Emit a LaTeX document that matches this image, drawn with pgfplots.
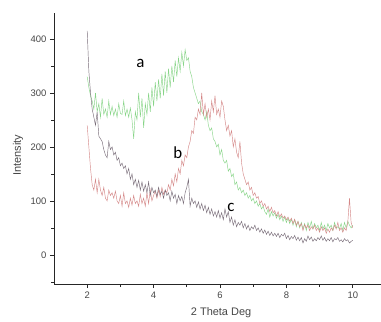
\documentclass[border=0pt]{standalone}
\usepackage{pgfplots}
\pgfplotsset{compat=1.18}
\usepackage{fontspec}
\setmainfont{Liberation Sans}
\newfontfamily\calfont{Carlito}
\definecolor{cgreen}{RGB}{135,212,135}
\definecolor{cred}{RGB}{212,135,135}
\definecolor{cgray}{RGB}{120,108,120}
\definecolor{txt}{RGB}{70,70,70}
\begin{document}
\begin{tikzpicture}
\useasboundingbox (0,0) rectangle (381bp,322bp);
\begin{axis}[
  at={(54bp,38bp)}, anchor=south west,
  scale only axis, width=327bp, height=271bp,
  axis lines=left, axis line style={-, line width=0.8pt, color=black!85},
  xmin=1.0, xmax=10.85, ymin=-54, ymax=448,
  xtick={2,4,6,8,10}, minor xtick={3,5,7,9},
  ytick={0,100,200,300,400}, minor ytick={-50,50,150,250,350},
  tick align=outside, major tick length=4bp, minor tick length=3bp,
  tick style={color=black!85, line width=0.6pt},
  /pgf/number format/assume math mode=true,
  tick label style={font=\fontsize{9.5}{10}\selectfont, color=txt},
  xlabel={2 Theta Deg}, ylabel={Intensity},
  label style={font=\fontsize{11}{12}\selectfont, color=txt},
  xlabel style={at={(axis description cs:0.511,-0.107)}, anchor=center},
  ylabel style={at={(axis description cs:-0.110,0.476)}, anchor=center},
  clip=false,
]
\addplot[cgreen, line width=0.45pt] table {
2.00 330
2.05 310
2.10 295
2.15 285
2.20 270
2.25 300
2.30 265
2.35 280
2.40 255
2.45 290
2.50 260
2.55 270
2.60 255
2.65 285
2.70 260
2.75 275
2.80 258
2.85 270
2.90 255
2.95 280
3.00 262
3.05 260
3.10 285
3.15 258
3.20 270
3.25 255
3.30 272
3.35 250
3.40 215
3.45 265
3.50 250
3.55 300
3.60 255
3.65 290
3.70 235
3.75 280
3.80 260
3.85 300
3.90 265
3.95 310
4.00 275
4.05 320
4.10 285
4.15 325
4.20 290
4.25 335
4.30 295
4.35 340
4.40 300
4.45 345
4.50 310
4.55 350
4.60 320
4.65 360
4.70 330
4.75 365
4.80 340
4.85 375
4.90 350
4.95 380
5.00 360
5.05 365
5.10 340
5.15 330
5.20 310
5.25 300
5.30 290
5.35 280
5.40 285
5.45 265
5.50 260
5.55 250
5.60 265
5.65 240
5.70 230
5.75 235
5.80 215
5.85 210
5.90 200
5.95 205
6.00 185
6.05 195
6.10 175
6.15 170
6.20 175
6.25 155
6.30 160
6.35 145
6.40 150
6.45 130
6.50 135
6.55 120
6.60 125
6.65 115
6.70 120
6.75 110
6.80 115
6.85 105
6.90 110
6.95 100
7.00 105
7.05 95
7.10 100
7.15 90
7.20 95
7.25 85
7.30 90
7.35 80
7.40 75
7.45 85
7.50 70
7.55 80
7.60 72
7.65 78
7.70 68
7.75 75
7.80 65
7.85 72
7.90 62
7.95 70
8.00 60
8.05 68
8.10 58
8.15 66
8.20 55
8.25 65
8.30 52
8.35 62
8.40 50
8.45 60
8.50 48
8.55 58
8.60 45
8.65 60
8.70 50
8.75 62
8.80 48
8.85 58
8.90 50
8.95 55
9.00 45
9.05 60
9.10 48
9.15 55
9.20 45
9.25 58
9.30 50
9.35 55
9.40 45
9.45 60
9.50 50
9.55 52
9.60 48
9.65 58
9.70 45
9.75 60
9.80 50
9.85 62
9.90 55
9.95 50
10.00 55
};
\addplot[cred, line width=0.45pt] table {
2.00 240
2.05 200
2.10 160
2.15 130
2.20 120
2.25 140
2.30 115
2.35 140
2.40 120
2.45 110
2.50 125
2.55 105
2.60 100
2.65 120
2.70 110
2.75 115
2.80 105
2.85 118
2.90 100
2.95 95
3.00 110
3.05 90
3.10 115
3.15 95
3.20 100
3.25 88
3.30 105
3.35 92
3.40 110
3.45 95
3.50 100
3.55 90
3.60 112
3.65 95
3.70 105
3.75 90
3.80 115
3.85 95
3.90 120
3.95 100
4.00 110
4.05 118
4.10 105
4.15 120
4.20 108
4.25 125
4.30 112
4.35 120
4.40 115
4.45 130
4.50 120
4.55 140
4.60 128
4.65 150
4.70 135
4.75 160
4.80 150
4.85 175
4.90 165
4.95 185
5.00 180
5.05 200
5.10 210
5.15 230
5.20 225
5.25 255
5.30 250
5.35 270
5.40 260
5.45 300
5.50 260
5.55 280
5.60 255
5.65 270
5.70 250
5.75 285
5.80 265
5.85 295
5.90 260
5.95 270
6.00 255
6.05 285
6.10 275
6.15 250
6.20 230
6.25 240
6.30 220
6.35 230
6.40 200
6.45 215
6.50 190
6.55 180
6.60 210
6.65 170
6.70 150
6.75 140
6.80 130
6.85 135
6.90 120
6.95 125
7.00 110
7.05 115
7.10 105
7.15 108
7.20 95
7.25 100
7.30 90
7.35 95
7.40 85
7.45 90
7.50 80
7.55 88
7.60 78
7.65 82
7.70 72
7.75 80
7.80 70
7.85 76
7.90 68
7.95 72
8.00 65
8.05 70
8.10 62
8.15 68
8.20 58
8.25 66
8.30 55
8.35 62
8.40 52
8.45 58
8.50 45
8.55 56
8.60 50
8.65 55
8.70 45
8.75 52
8.80 48
8.85 55
8.90 45
8.95 50
9.00 42
9.05 52
9.10 45
9.15 50
9.20 40
9.25 48
9.30 42
9.35 50
9.40 45
9.45 55
9.50 48
9.55 60
9.60 45
9.65 50
9.70 42
9.75 50
9.80 45
9.85 60
9.90 105
9.95 60
10.00 50
};
\addplot[cgray, line width=0.45pt] table {
2.00 415
2.05 340
2.10 300
2.15 270
2.20 255
2.25 240
2.30 265
2.35 220
2.40 215
2.45 210
2.50 195
2.55 185
2.60 180
2.65 210
2.70 195
2.75 200
2.80 185
2.85 190
2.90 175
2.95 180
3.00 165
3.05 170
3.10 160
3.15 165
3.20 150
3.25 160
3.30 140
3.35 150
3.40 130
3.45 140
3.50 125
3.55 138
3.60 120
3.65 135
3.70 118
3.75 130
3.80 115
3.85 135
3.90 110
3.95 125
4.00 115
4.05 120
4.10 108
4.15 125
4.20 112
4.25 118
4.30 105
4.35 120
4.40 110
4.45 115
4.50 100
4.55 118
4.60 105
4.65 112
4.70 95
4.75 110
4.80 100
4.85 108
4.90 95
4.95 115
5.00 125
5.05 140
5.10 90
5.15 105
5.20 95
5.25 100
5.30 88
5.35 98
5.40 85
5.45 95
5.50 82
5.55 92
5.60 78
5.65 88
5.70 75
5.75 85
5.80 72
5.85 80
5.90 70
5.95 82
6.00 68
6.05 78
6.10 65
6.15 85
6.20 70
6.25 80
6.30 60
6.35 70
6.40 55
6.45 65
6.50 52
6.55 60
6.60 55
6.65 62
6.70 50
6.75 58
6.80 48
6.85 55
6.90 45
6.95 52
7.00 48
7.05 55
7.10 45
7.15 50
7.20 42
7.25 48
7.30 40
7.35 46
7.40 38
7.45 44
7.50 36
7.55 42
7.60 35
7.65 40
7.70 34
7.75 40
7.80 32
7.85 38
7.90 35
7.95 40
8.00 30
8.05 36
8.10 28
8.15 34
8.20 30
8.25 36
8.30 27
8.35 33
8.40 26
8.45 32
8.50 22
8.55 30
8.60 25
8.65 35
8.70 28
8.75 33
8.80 25
8.85 30
8.90 26
8.95 32
9.00 28
9.05 35
9.10 27
9.15 32
9.20 25
9.25 30
9.30 26
9.35 32
9.40 24
9.45 30
9.50 28
9.55 32
9.60 25
9.65 28
9.70 24
9.75 30
9.80 26
9.85 28
9.90 22
9.95 25
10.00 27
};
\node[font=\calfont\fontsize{17}{18}\selectfont] at (axis cs:3.6,355) {a};
\node[font=\calfont\fontsize{17}{18}\selectfont] at (axis cs:4.73,190) {b};
\node[font=\calfont\fontsize{17}{18}\selectfont] at (axis cs:6.33,88) {c};
\end{axis}
\end{tikzpicture}
\end{document}
